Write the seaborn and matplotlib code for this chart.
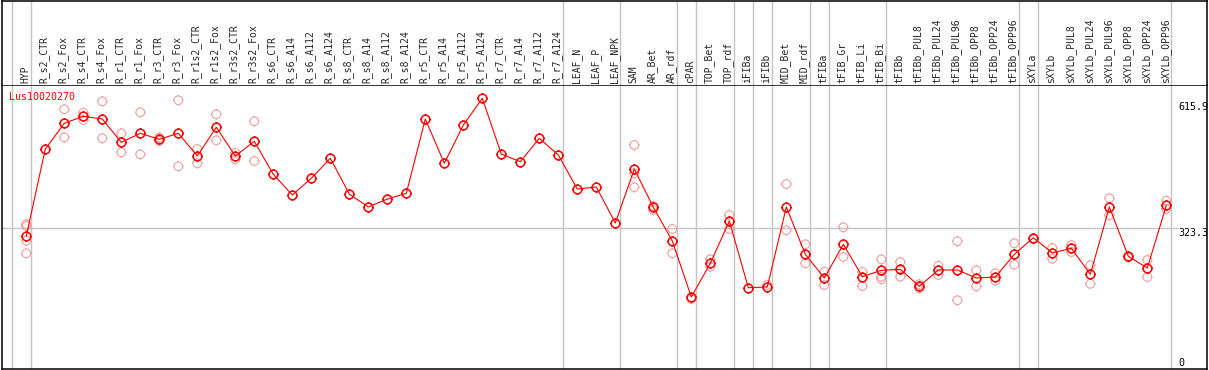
import numpy as np
import pandas as pd
import seaborn as sns
import matplotlib
matplotlib.use("Agg")
import matplotlib.pyplot as plt
from matplotlib.path import Path

# condition names along the x axis
conditions = ["HYP", "R_s2_CTR", "R_s2_Fox", "R_s4_CTR", "R_s4_Fox", "R_r1_CTR", "R_r1_Fox",
              "R_r3_CTR", "R_r3_Fox", "R_r1s2_CTR", "R_r1s2_Fox", "R_r3s2_CTR", "R_r3s2_Fox",
              "R_s6_CTR", "R_s6_A14", "R_s6_A112", "R_s6_A124", "R_s8_CTR", "R_s8_A14",
              "R_s8_A112", "R_s8_A124", "R_r5_CTR", "R_r5_A14", "R_r5_A112", "R_r5_A124",
              "R_r7_CTR", "R_r7_A14", "R_r7_A112", "R_r7_A124", "LEAF_N", "LEAF_P", "LEAF_NPK",
              "SAM", "AR_Bet", "AR_rdf", "cPAR", "TOP_Bet", "TOP_rdf", "iFIBa", "iFIBb",
              "MID_Bet", "MID_rdf", "tFIBa", "tFIB_Gr", "tFIB_Li", "tFIB_Bi", "tFIBb",
              "tFIBb_PUL8", "tFIBb_PUL24", "tFIBb_PUL96", "tFIBb_OPP8", "tFIBb_OPP24",
              "tFIBb_OPP96", "sXYLa", "sXYLb", "sXYLb_PUL8", "sXYLb_PUL24", "sXYLb_PUL96",
              "sXYLb_OPP8", "sXYLb_OPP24", "sXYLb_OPP96"]

# mean expression per condition
means = [305.0, 501.5, 559.6, 575.4, 569.3, 516.6, 537.0, 523.4, 537.0, 485.7,
         550.5, 485.7, 518.9, 444.3, 397.6, 435.3, 480.5, 399.8, 370.5, 388.5,
         401.4, 569.3, 469.2, 555.7, 615.9, 490.2, 472.8, 525.7, 487.9, 411.1,
         415.7, 334.3, 456.3, 369.8, 293.7, 167.2, 243.3, 338.9, 188.2, 189.8,
         370.5, 263.6, 210.1, 286.2, 213.0, 227.5, 229.7, 191.3, 228.2, 228.2,
         210.1, 212.3, 263.6, 301.1, 266.6, 277.2, 218.4, 370.5, 259.1, 232.7,
         374.3]

# individual replicates (pale circles)
replicates = [[331.4, 327.6, 294.4, 265.9], [], [591.2, 527.9], [583.5, 567.0],
              [609.3, 525.7], [537.0, 494.0], [584.4, 489.5], [527.5, 519.6],
              [611.5, 462.4], [501.5, 469.2], [579.9, 521.1], [478.2, 492.5],
              [564.1, 474.4], [], [], [], [], [], [], [], [], [], [], [], [], [], [], [], [],
              [], [], [], [510.5, 446.6, 415.0], [372.7, 363.7], [320.8, 265.9], [162.6],
              [252.3, 235.6], [352.4, 320.8], [], [194.3], [422.4, 317.8], [286.2, 243.3],
              [224.3, 194.3], [324.6, 257.5], [223.6, 192.0], [252.3, 213.0, 207.2],
              [246.2, 213.0], [195.9, 186.8], [237.9, 216.9], [293.0, 159.7],
              [227.5, 191.3], [220.7, 204.0], [288.5, 240.1], [297.5], [277.9, 253.7],
              [284.6, 268.8], [238.8, 197.2], [390.1, 351.7], [255.9], [250.7, 212.3],
              [384.7, 366.0]]

# group separators come after these condition indices
group_ends = [-1, 0, 28, 31, 34, 35, 37, 38, 39, 41, 42, 45, 52, 53, 60]

y_labels = [615.9, 323.3, 0]
gene = "Lus10020270"

RED = "#FF0000"
PALE = "#F0A0A0"
GRID = "#C4C4C4"

mean_df = pd.DataFrame({"idx": np.arange(len(conditions)), "value": means})
rows = [(i, v) for i, vals in enumerate(replicates) for v in vals]
rep_df = pd.DataFrame(rows, columns=["idx", "value"])

sns.set_style("white")
plt.rcParams["font.family"] = ["DejaVu Sans Mono"]

# circle marker with tiny ticks
circ = Path.circle((0, 0), 1.0)
ticks = Path([(0, 1), (0, 1.22), (0, -1), (0, -1.22), (1, 0), (1.22, 0), (-1, 0), (-1.22, 0)],
             [Path.MOVETO, Path.LINETO] * 4)
mk = Path.make_compound_path(circ, ticks)
msize = 7.6

W, H = 1209, 370
fig = plt.figure(figsize=(W / 100, H / 100), dpi=100)
ax = fig.add_axes([2 / W, 1 / H, 1205 / W, 284 / H])
ax_top = fig.add_axes([2 / W, 285 / H, 1205 / W, 84.3 / H])

xlim = (-1.279, 62.14)
ylim = (4.5, 646.1)

# separators
for g in group_ends:
    ax.axvline(g + 0.23, color=GRID, lw=1.0, zorder=1)
    ax_top.axvline(g + 0.23, color=GRID, lw=1.0, zorder=1)
ax.axhline(323.3, xmin=0, xmax=(1178 - 2) / 1205, color=GRID, lw=1.0, zorder=1)

sns.scatterplot(data=rep_df, x="idx", y="value", ax=ax, marker=mk, s=msize ** 2,
                color=PALE, facecolor="none", edgecolor=PALE, linewidth=0.8, zorder=3)
sns.lineplot(data=mean_df, x="idx", y="value", ax=ax, color=RED, linewidth=0.8,
             errorbar=None, marker=mk, markersize=msize, markerfacecolor="none",
             markeredgecolor=RED, markeredgewidth=1.1, zorder=4)

ax.set_xlim(*xlim)
ax.set_ylim(*ylim)
ax.set_xticks([])
ax.set_yticks([])
ax.set_xlabel("")
ax.set_ylabel("")
for sp in ax.spines.values():
    sp.set_visible(True)
    sp.set_color("black")
    sp.set_linewidth(1.1)

ax.text(7 / 1205, 1 - 7 / 284, gene, transform=ax.transAxes, ha="left", va="top",
        color=RED, fontsize=7.2)

# value labels on the right
offsets = [-4, 0, 13]
for v, dy in zip(y_labels, offsets):
    ax.annotate(f"{v:g}" if v == 0 else f"{v}", xy=((1178 - 26.3) / 19, v),
                xytext=(0, dy), textcoords="offset pixels",
                ha="left", va="top", fontsize=7.2, color="black", annotation_clip=False)

# condition labels
ax_top.set_xlim(*xlim)
ax_top.set_ylim(0, 1)
ax_top.set_xticks([])
ax_top.set_yticks([])
for name in ["left", "top", "right"]:
    ax_top.spines[name].set_color("black")
    ax_top.spines[name].set_linewidth(1.1)
ax_top.spines["bottom"].set_visible(False)
for i, name in enumerate(conditions):
    ax_top.annotate(name, xy=(i, 0), xycoords=("data", "axes fraction"),
                    xytext=(-1, 2), textcoords="offset pixels", rotation=90,
                    ha="center", va="bottom", fontsize=7.0)

fig.savefig("out.png", dpi=100)
